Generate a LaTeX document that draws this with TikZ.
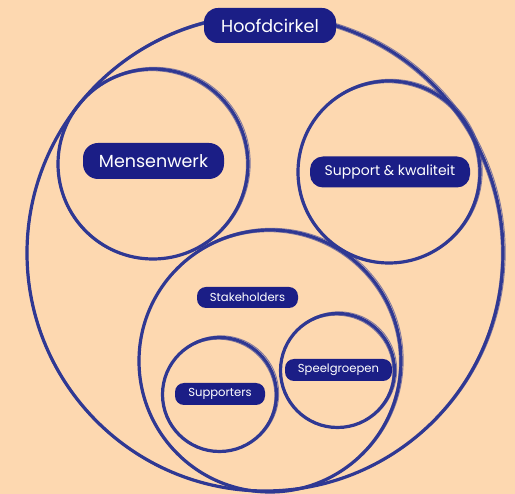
\documentclass[tikz,border=0pt]{standalone}
\usepackage{fontspec}
\setmainfont{Poppins}
\definecolor{bg}{HTML}{FDD8B0}
\definecolor{ring}{HTML}{2F3893}
\definecolor{tag}{HTML}{1B1E86}
\begin{document}
\begin{tikzpicture}[x=1pt,y=-1pt,
  ringline/.style={draw=ring,line width=3.2pt},
  ringthin/.style={draw=ring,line width=0.9pt,opacity=0.6},
  tagbox/.style={fill=tag,text=white,rounded corners=#1,inner sep=0pt,align=center},
  tagbox/.default=8pt]
\fill[bg] (0,0) rectangle (515,494);
\useasboundingbox (0,0) rectangle (515,494);
% circles
\foreach \cx/\cy/\r in {265/253/238, 153/164/95, 389/172/91, 270/361/131, 219.5/394.5/57, 337.5/370.5/57}{
  \draw[ringline] (\cx,\cy) circle[radius=\r];
  \draw[ringthin] (\cx+1.4,\cy-0.9) circle[radius=\r+0.8];
  \draw[ringthin] (\cx-1.0,\cy+1.1) circle[radius=\r-0.6];
}
% labels
\node[tagbox=14pt,minimum width=132pt,minimum height=35pt,font=\fontsize{17.5}{20}\selectfont] (hoofd) at (270,25.5) {Hoofdcirkel};
\node[tagbox=15pt,minimum width=141pt,minimum height=36pt,font=\fontsize{17.5}{20}\selectfont] (mens) at (153.5,161) {Mensenwerk};
\node[tagbox=13pt,minimum width=160pt,minimum height=31pt,font=\fontsize{14}{17}\selectfont] (supp) at (390,172) {Support \& kwaliteit};
\node[tagbox=9pt,minimum width=101pt,minimum height=21pt,font=\fontsize{11.6}{13}\selectfont] (stake) at (247.5,297.5) {Stakeholders};
\node[tagbox=9pt,minimum width=107pt,minimum height=22pt,font=\fontsize{11.6}{13}\selectfont] (speel) at (338.5,370) {Speelgroepen};
\node[tagbox=9pt,minimum width=90pt,minimum height=22pt,font=\fontsize{11.6}{13}\selectfont] (suppo) at (220,394) {Supporters};
\end{tikzpicture}
\end{document}
